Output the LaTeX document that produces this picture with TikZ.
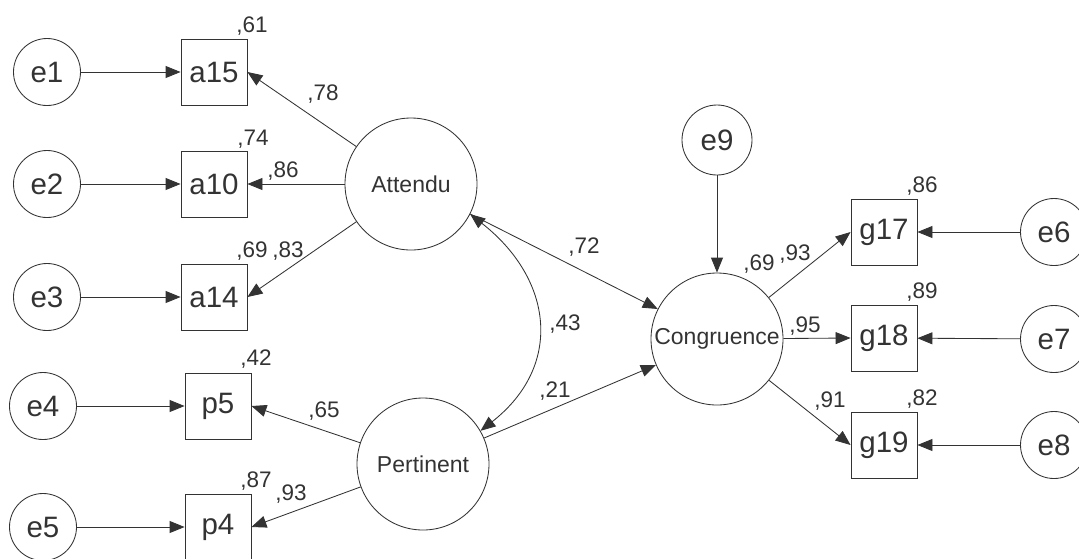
\documentclass[tikz,border=0pt]{standalone}
\usepackage{fontspec}
\setmainfont{Liberation Sans}
\usetikzlibrary{arrows.meta}
\definecolor{amosline}{HTML}{333333}

\begin{document}
\begin{tikzpicture}[x=1pt, y=-1pt, line width=0.85pt, color=amosline,
  >={Triangle[length=15pt,width=12pt]},
  err/.style={draw, circle, minimum size=67pt, inner sep=0pt, font=\fontsize{29.5}{31}\selectfont},
  obs/.style={draw, rectangle, minimum size=66pt, inner sep=0pt, font=\fontsize{29.5}{31}\selectfont},
  lat/.style={draw, circle, minimum size=132pt, inner sep=0pt, font=\fontsize{23}{25}\selectfont},
  coef/.style={anchor=base, inner sep=0pt, font=\fontsize{22.5}{24}\selectfont}]
\useasboundingbox (0,0) rectangle (1079,558);
% latent variables
\node[lat] (att) at (411,184) {Attendu};
\node[lat] (per) at (423,464) {Pertinent};
\node[lat] (con) at (717,339) {Congruence};
% indicators
\node[obs] (a15) at (214,72) {a15};
\node[obs] (a10) at (214,184) {a10};
\node[obs] (a14) at (214,297) {a14};
\node[obs] (p5) at (218,406) {p5};
\node[obs] (p4) at (218,527) {p4};
\node[obs] (g17) at (884,232) {g17};
\node[obs] (g18) at (884,338) {g18};
\node[obs] (g19) at (884,445) {g19};
% errors
\node[err] (e1) at (47,72) {e1};
\node[err] (e2) at (47,184) {e2};
\node[err] (e3) at (47,297) {e3};
\node[err] (e4) at (43,406) {e4};
\node[err] (e5) at (43,527) {e5};
\node[err] (e6) at (1054,232) {e6};
\node[err] (e7) at (1054,339) {e7};
\node[err] (e8) at (1054,445) {e8};
\node[err, minimum size=70pt] (e9) at (717,140) {e9};
% paths
\draw[->] (e1) -- (a15);
\draw[->] (e2) -- (a10);
\draw[->] (e3) -- (a14);
\draw[->] (e4) -- (p5);
\draw[->] (e5) -- (p4);
\draw[->] (e6) -- (g17);
\draw[->] (e7) -- (g18);
\draw[->] (e8) -- (g19);
\draw[->] (e9) -- (con);
\draw[->] (att) -- (a15.east);
\draw[->] (att) -- (a10.east);
\draw[->] (att) -- (a14.east);
\draw[->] (per) -- (p5.east);
\draw[->] (per) -- (p4.east);
\draw[->] (con) -- (g17.west);
\draw[->] (con) -- (g18.west);
\draw[->] (con) -- (g19.west);
\draw[->] (att) -- (con);
\draw[->] (per) -- (con);
\draw[<->] (att.-27) .. controls +(83,65) and +(83,-65) .. (per.30);
% estimates
\node[coef] (r61) at (252,32.5) {,61};
\node[coef] (r78) at (323,100) {,78};
\node[coef] (r74) at (253,145.5) {,74};
\node[coef] (r86a) at (283,177) {,86};
\node[coef] (r69a) at (252,257) {,69};
\node[coef] (r83) at (288,257) {,83};
\node[coef] (r42) at (256,365) {,42};
\node[coef] (r65) at (324,417) {,65};
\node[coef] (r87) at (256,487) {,87};
\node[coef] (r93a) at (291,500) {,93};
\node[coef] (r72) at (584,253) {,72};
\node[coef] (r43) at (565,330) {,43};
\node[coef] (r21) at (555,397) {,21};
\node[coef] (r69b) at (759,270) {,69};
\node[coef] (r93b) at (795,260) {,93};
\node[coef] (r86b) at (922,192) {,86};
\node[coef] (r89) at (922,298) {,89};
\node[coef] (r95) at (805,332) {,95};
\node[coef] (r82) at (922,405) {,82};
\node[coef] (r91) at (830,407) {,91};
\end{tikzpicture}
\end{document}
